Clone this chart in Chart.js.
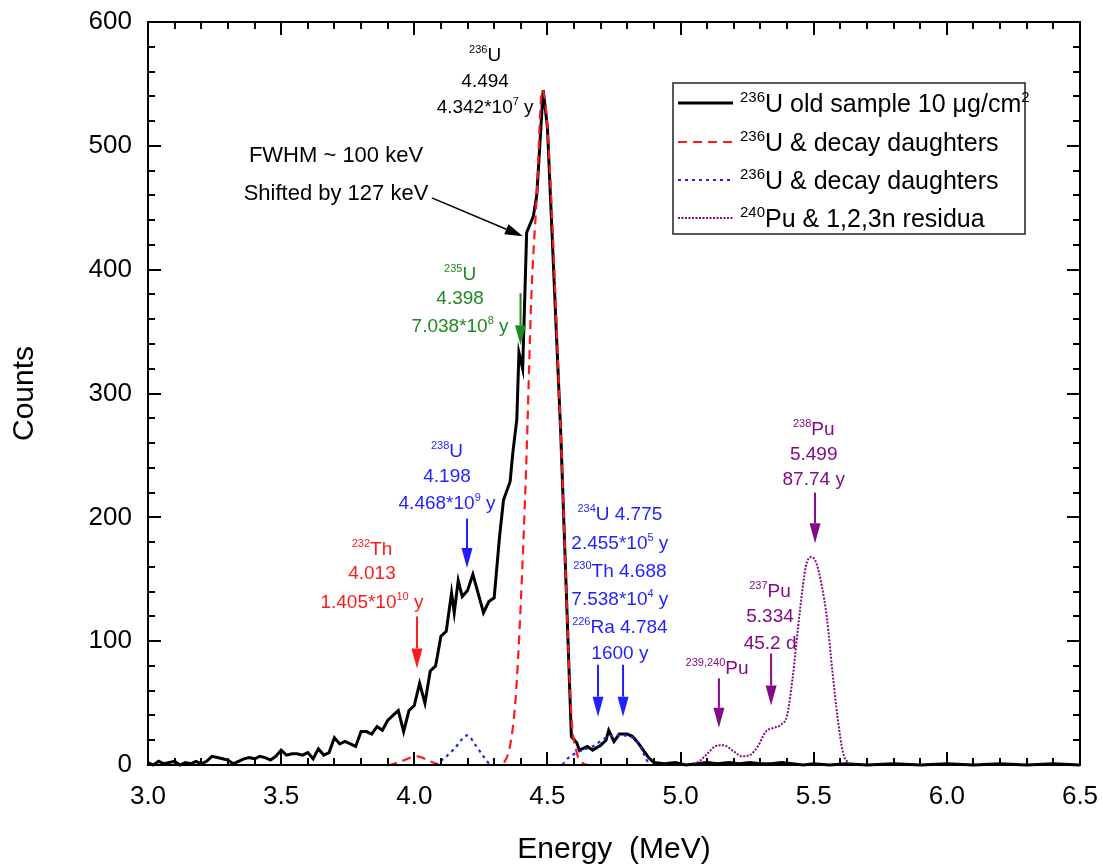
<!DOCTYPE html>
<html>
<head>
<meta charset="utf-8">
<script src="https://cdn.jsdelivr.net/npm/chart.js@4.4.0/dist/chart.umd.min.js"></script>
<style>
  html, body { margin: 0; padding: 0; background: #fff; }
  #wrap { width: 1103px; height: 868px; }
</style>
</head>
<body>
<div id="wrap"><canvas id="chart" width="1103" height="868"></canvas></div>
<script>
// ====== DADOS ======
// 236U old sample (measured spectrum)
const sampleE = [3.00,3.02,3.04,3.06,3.08,3.10,3.12,3.14,3.16,3.18,3.20,3.22,3.24,3.26,3.28,3.30,3.32,3.34,3.36,3.38,
  3.40,3.42,3.44,3.46,3.48,3.50,3.52,3.54,3.56,3.58,3.60,3.62,3.64,3.66,3.68,3.70,3.72,3.74,3.76,3.78,
  3.80,3.82,3.84,3.86,3.88,3.90,3.92,3.94,3.96,3.98,
  4.00,4.02,4.04,4.06,4.08,4.10,4.12,4.14,
  4.15,4.165,4.18,4.20,4.22,4.26,4.28,4.30,4.32,4.335,4.36,4.37,4.385,4.393,4.407,4.422,4.447,4.46,4.484,4.50,
  4.55,4.59,4.61,4.62,4.65,4.67,4.70,4.72,4.73,4.75,4.77,4.80,4.82,4.84,4.86,4.88,4.90,
  4.94,4.98,5.02,5.06,5.10,5.14,5.18,5.22,5.26,5.30,5.34,5.38,5.42,5.46,5.50,
  5.56,5.62,5.70,5.80,5.90,6.00,6.10,6.20,6.30,6.40,6.50];
const sampleCounts = [2,0,3,1,2,3,0,2,1,3,1,3,7,6,5,4,1,3,5,6,
  5,7,6,4,7,12,8,9,9,8,10,5,13,8,10,22,17,19,17,15,
  27,27,25,31,28,36,40,44,27,44,
  48,66,50,76,80,104,108,139,
  123,149,136,141,154,123,132,135,184,214,229,252,279,333,320,430,443,460,545,515,
  268,23,18,12,15,12,16,20,28,19,25,25,23,18,12,6,2,
  1,2,0,1,2,1,2,1,2,1,1,2,1,0,1,
  0,1,0,1,0,1,0,1,0,1,0];

// 236U & decay daughters (red dashed)
const redE = [3.00,3.90,3.95,4.01,4.06,4.10,4.32,4.34,4.36,4.38,4.40,4.42,4.44,4.46,4.48,4.50,4.55,4.59,4.61,4.63,4.66,6.50];
const redCounts = [0,0,3,7,3,0,0,3,16,52,131,240,380,460,545,515,268,40,10,2,0,0];

// 236U & decay daughters (blue dotted)
const blueE = [3.00,4.07,4.11,4.15,4.20,4.23,4.26,4.29,4.55,4.58,4.62,4.67,4.72,4.77,4.81,4.85,4.87,4.89,6.50];
const blueCounts = [0,0,5,13,24,16,7,0,0,6,11,15,22,24,23,15,5,0,0];

// 240Pu & 1,2,3n residua (purple)
const puE = [3.00,5.04,5.07,5.10,5.13,5.16,5.20,5.23,5.26,5.29,5.32,5.35,5.38,5.40,5.42,5.45,5.47,5.49,5.51,5.53,5.55,5.57,5.59,5.61,5.63,5.66,6.50];
const puCounts = [0,0,3,9,15,16,11,7,8,15,27,30,33,40,69,128,160,168,163,145,118,76,38,10,2,0,0];

const legendLabels = ['{236}U old sample 10 \u03bcg/cm{2}', '{236}U & decay daughters', '{236}U & decay daughters', '{240}Pu & 1,2,3n residua'];

const BLACK = '#000000', RED = '#ff1a1a', BLUE = '#1f1fff', GREEN = '#1c8a1c', PURPLE = '#850a85';
const FONT = '"Liberation Sans", Arial, Helvetica, sans-serif';

// textos (energia em MeV, contagens de cada linha)
const labelNotes = [
  { e: 4.266, c: [574, 553, 532], text: ['{236}U', '4.494', '4.342*10{7} y'], color: BLACK },
  { e: 3.706, c: [493, 463], text: ['FWHM ~ 100 keV', 'Shifted by 127 keV'], color: BLACK, size: 22 },
  { e: 4.172, c: [397, 378, 355], text: ['{235}U', '4.398', '7.038*10{8} y'], color: GREEN },
  { e: 4.123, c: [254, 234, 212], text: ['{238}U', '4.198', '4.468*10{9} y'], color: BLUE },
  { e: 3.841, c: [175, 156, 132], text: ['{232}Th', '4.013', '1.405*10{10} y'], color: RED },
  { e: 4.772, c: [203, 180, 157, 135, 112, 91], text: ['{234}U 4.775', '2.455*10{5} y', '{230}Th 4.688', '7.538*10{4} y', '{226}Ra 4.784', '1600 y'], color: BLUE },
  { e: 5.137, c: [79], text: ['{239,240}Pu'], color: PURPLE },
  { e: 5.336, c: [141, 121, 99], text: ['{237}Pu', '5.334', '45.2 d'], color: PURPLE },
  { e: 5.50, c: [272, 252, 232], text: ['{238}Pu', '5.499', '87.74 y'], color: PURPLE }
];

// setas verticais (energia, contagem inicial, contagem da ponta)
const arrowNotes = [
  { e: 4.399, from: 381, to: 339, color: GREEN },
  { e: 4.198, from: 199, to: 159, color: BLUE },
  { e: 4.01, from: 120, to: 78, color: RED },
  { e: 4.69, from: 81, to: 39, color: BLUE },
  { e: 4.784, from: 81, to: 39, color: BLUE },
  { e: 5.144, from: 70, to: 30, color: PURPLE },
  { e: 5.34, from: 90, to: 48, color: PURPLE },
  { e: 5.505, from: 220, to: 179, color: PURPLE }
];
const fwhmArrow = { e0: 4.066, c0: 458, e1: 4.408, c1: 427 };

const toPoints = (xs, ys) => xs.map((x, i) => ({ x: x, y: ys[i] }));

// ====== TEXTO COM SOBRESCRITO ======
function drawRich(ctx, markup, x, y, size, color, align) {
  const supSize = Math.round(size * 0.6);
  const parts = markup.split(/(\{[^}]*\})/).filter(s => s.length);
  let total = 0;
  const segs = parts.map(p => {
    const sup = p[0] === '{';
    const t = sup ? p.slice(1, -1) : p;
    ctx.font = (sup ? supSize : size) + 'px ' + FONT;
    const w = ctx.measureText(t).width;
    total += w;
    return { t, sup, w };
  });
  let cx = align === 'left' ? x : x - total / 2;
  const base = y + size * 0.36;
  ctx.fillStyle = color;
  ctx.textAlign = 'left';
  ctx.textBaseline = 'alphabetic';
  segs.forEach(s => {
    ctx.font = (s.sup ? supSize : size) + 'px ' + FONT;
    ctx.fillText(s.t, cx, s.sup ? base - size * 0.42 : base);
    cx += s.w;
  });
}

function drawArrow(ctx, x0, y0, x1, y1, color, headLen, headHalf, width) {
  const ang = Math.atan2(y1 - y0, x1 - x0);
  const bx = x1 - headLen * Math.cos(ang), by = y1 - headLen * Math.sin(ang);
  ctx.strokeStyle = color;
  ctx.fillStyle = color;
  ctx.lineWidth = width;
  ctx.setLineDash([]);
  ctx.beginPath();
  ctx.moveTo(x0, y0);
  ctx.lineTo(bx, by);
  ctx.stroke();
  ctx.beginPath();
  ctx.moveTo(x1, y1);
  ctx.lineTo(bx + headHalf * Math.sin(ang), by - headHalf * Math.cos(ang));
  ctx.lineTo(bx - headHalf * Math.sin(ang), by + headHalf * Math.cos(ang));
  ctx.closePath();
  ctx.fill();
}

// ====== PLUGINS ======
const framePlugin = {
  id: 'frame',
  afterDatasetsDraw(chart) {
    const { ctx, chartArea: a, scales } = chart;
    const xs = scales.x, ys = scales.y;
    ctx.save();
    ctx.strokeStyle = '#000';
    ctx.lineWidth = 2;
    ctx.setLineDash([]);
    ctx.strokeRect(a.left, a.top, a.right - a.left, a.bottom - a.top);
    ctx.beginPath();
    for (let i = 0; i <= 35; i++) {
      const px = Math.round(xs.getPixelForValue(3 + i * 0.1));
      const len = i % 5 === 0 ? 13 : 7;
      ctx.moveTo(px, a.bottom); ctx.lineTo(px, a.bottom - len);
      ctx.moveTo(px, a.top); ctx.lineTo(px, a.top + len);
    }
    for (let i = 0; i <= 30; i++) {
      const py = Math.round(ys.getPixelForValue(i * 20));
      const len = i % 5 === 0 ? 13 : 7;
      ctx.moveTo(a.left, py); ctx.lineTo(a.left + len, py);
      ctx.moveTo(a.right, py); ctx.lineTo(a.right - len, py);
    }
    ctx.stroke();
    ctx.restore();
  }
};

const notesPlugin = {
  id: 'notes',
  afterDraw(chart) {
    const { ctx, scales } = chart;
    const xs = scales.x, ys = scales.y;
    ctx.save();
    labelNotes.forEach(n => {
      n.text.forEach((t, i) => {
        drawRich(ctx, t, xs.getPixelForValue(n.e), ys.getPixelForValue(n.c[i]), n.size || 19, n.color, 'center');
      });
    });
    arrowNotes.forEach(a => {
      const px = xs.getPixelForValue(a.e);
      drawArrow(ctx, px, ys.getPixelForValue(a.from), px, ys.getPixelForValue(a.to), a.color, 20, 5.5, 2);
    });
    drawArrow(ctx, xs.getPixelForValue(fwhmArrow.e0), ys.getPixelForValue(fwhmArrow.c0),
      xs.getPixelForValue(fwhmArrow.e1), ys.getPixelForValue(fwhmArrow.c1), BLACK, 18, 5.5, 1.5);
    ctx.restore();
  }
};

const legendPlugin = {
  id: 'boxLegend',
  afterDraw(chart) {
    const ctx = chart.ctx;
    const box = { x: 673, y: 83, w: 352, h: 151 };
    const rows = [103, 142, 180, 218];
    ctx.save();
    ctx.fillStyle = '#fff';
    ctx.fillRect(box.x, box.y, box.w, box.h);
    ctx.strokeStyle = '#222';
    ctx.lineWidth = 1.5;
    ctx.setLineDash([]);
    ctx.strokeRect(box.x, box.y, box.w, box.h);
    chart.data.datasets.forEach((ds, i) => {
      ctx.strokeStyle = ds.borderColor;
      ctx.lineWidth = ds.borderWidth;
      ctx.setLineDash(ds.borderDash || []);
      ctx.beginPath();
      ctx.moveTo(678, rows[i]);
      ctx.lineTo(733, rows[i]);
      ctx.stroke();
      ctx.setLineDash([]);
      drawRich(ctx, legendLabels[i], 740, rows[i], 25, '#000', 'left');
    });
    ctx.restore();
  }
};

// zera o padding automático das escalas (área do gráfico fixa)
const noPad = s => { s.paddingTop = 0; s.paddingBottom = 0; s.paddingLeft = 0; s.paddingRight = 0; };

// ====== GRÁFICO ======
const ctx = document.getElementById('chart').getContext('2d');
new Chart(ctx, {
  type: 'scatter',
  data: {
    datasets: [
      { label: 'sample', data: toPoints(sampleE, sampleCounts), showLine: true, borderColor: BLACK,
        borderWidth: 3, pointRadius: 0, tension: 0, order: 4, clip: 6 },
      { label: 'red', data: toPoints(redE, redCounts), showLine: true, borderColor: RED,
        borderWidth: 2.2, borderDash: [9, 6], pointRadius: 0, cubicInterpolationMode: 'monotone', order: 3, clip: 6 },
      { label: 'blue', data: toPoints(blueE, blueCounts), showLine: true, borderColor: BLUE,
        borderWidth: 2.2, borderDash: [3, 4], pointRadius: 0, cubicInterpolationMode: 'monotone', order: 2, clip: 6 },
      { label: 'pu', data: toPoints(puE, puCounts), showLine: true, borderColor: PURPLE,
        borderWidth: 2, borderDash: [2, 1.5], pointRadius: 0, cubicInterpolationMode: 'monotone', order: 1, clip: 6 }
    ]
  },
  options: {
    responsive: false,
    animation: false,
    layout: { padding: { top: 22, right: 23, left: 0, bottom: 0 } },
    plugins: { legend: { display: false }, tooltip: { enabled: false } },
    scales: {
      x: {
        type: 'linear', min: 3, max: 6.5,
        grid: { display: false, drawTicks: false },
        border: { display: false },
        ticks: { stepSize: 0.5, padding: 16, color: '#000', font: { family: FONT, size: 26 },
          callback: v => v.toFixed(1) },
        title: { display: true, text: 'Energy  (MeV)', color: '#000', font: { family: FONT, size: 30 },
          padding: { top: 0, bottom: 0 } },
        afterFit: s => { s.height = 103; noPad(s); }
      },
      y: {
        min: 0, max: 600,
        grid: { display: false, drawTicks: false },
        border: { display: false },
        ticks: { stepSize: 100, padding: 16, color: '#000', font: { family: FONT, size: 26 } },
        title: { display: true, text: 'Counts', color: '#000', font: { family: FONT, size: 30 },
          padding: { top: 7, bottom: 0 } },
        afterFit: s => { s.width = 148; noPad(s); }
      }
    }
  },
  plugins: [framePlugin, notesPlugin, legendPlugin]
});
</script>
</body>
</html>
